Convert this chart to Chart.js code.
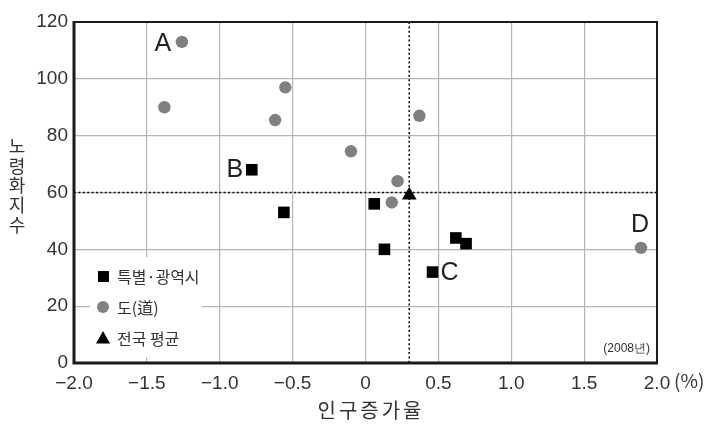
<!DOCTYPE html>
<html>
<head>
<meta charset="utf-8">
<script src="https://cdn.jsdelivr.net/npm/chart.js@4"></script>
<style>
  body { margin: 0; background: #fff; }
  #wrap { width: 711px; height: 424px; position: relative; }
</style>
</head>
<body>
<div id="wrap"><canvas id="agingChart"></canvas></div>
<script>
// 특별·광역시 (x: 인구증가율 %, y: 노령화지수)
var cityX = [-0.78, -0.56, 0.06, 0.13, 0.62, 0.69, 0.46];
var cityY = [68, 53, 56, 40, 44, 42, 32];
// 도(道)
var provX = [-1.26, -1.38, -0.55, -0.62, -0.10, 0.37, 0.22, 0.18, 1.89];
var provY = [113, 90, 97, 85.5, 74.5, 87, 64, 56.5, 40.5];
// 전국 평균
var avgX = [0.3];
var avgY = [59];
// dotted reference lines
var refX = 0.3;
var refY = 60;

var xTickLabels = ["−2.0", "−1.5", "−1.0", "−0.5", "0", "0.5", "1.0", "1.5", "2.0"];
var seriesNames = ["특별·광역시", "도(道)", "전국 평균"];
var yTitle = "노령화지수";
var xTitle = "인구증가율";
var unitText = "(%)";
var yearText = "(2008년)";

// letters next to some points: dataset index, point index, offset
var pointLetters = [
  { text: "A", ds: 1, i: 0, dx: -19, dy: 2 },
  { text: "B", ds: 0, i: 0, dx: -17, dy: 0 },
  { text: "C", ds: 0, i: 6, dx: 17, dy: 1 },
  { text: "D", ds: 1, i: 8, dx: -1, dy: -23 }
];

function toPoints(xs, ys) {
  return xs.map(function(x, k) { return { x: x, y: ys[k] }; });
}

var cjk = "'Noto Sans CJK KR', 'Noto Sans', sans-serif";
var narrow = "'Liberation Sans Narrow', 'Liberation Sans', sans-serif";

var extras = {
  id: "extras",
  beforeDatasetsDraw: function(chart) {
    var ctx = chart.ctx, a = chart.chartArea;
    var sx = chart.scales.x, sy = chart.scales.y;
    ctx.save();
    // legend background hides grid lines
    ctx.fillStyle = "#fff";
    ctx.fillRect(90, 257, 112, 100);

    // dotted average lines
    ctx.strokeStyle = "#111";
    ctx.lineWidth = 1.6;
    ctx.setLineDash([2, 2.4]);
    ctx.beginPath();
    ctx.moveTo(a.left, sy.getPixelForValue(refY));
    ctx.lineTo(a.right, sy.getPixelForValue(refY));
    ctx.moveTo(sx.getPixelForValue(refX), a.top);
    ctx.lineTo(sx.getPixelForValue(refX), a.bottom);
    ctx.stroke();
    ctx.setLineDash([]);

    // frame
    ctx.strokeStyle = "#1a1a1a";
    ctx.lineWidth = 2;
    ctx.strokeRect(a.left, a.top, a.right - a.left, a.bottom - a.top);
    ctx.lineWidth = 3;
    ctx.beginPath();
    ctx.moveTo(a.left, a.top - 1);
    ctx.lineTo(a.left, a.bottom);
    ctx.lineTo(a.right + 1, a.bottom);
    ctx.stroke();
    ctx.restore();
  },
  afterDraw: function(chart) {
    var ctx = chart.ctx, a = chart.chartArea;
    ctx.save();
    ctx.fillStyle = "#222";
    ctx.textAlign = "center";
    ctx.textBaseline = "middle";

    // letters A-D
    ctx.font = "25px 'Liberation Sans', sans-serif";
    pointLetters.forEach(function(p) {
      var el = chart.getDatasetMeta(p.ds).data[p.i];
      ctx.fillText(p.text, el.x + p.dx, el.y + p.dy);
    });

    // y title, characters stacked upright
    ctx.font = "18px " + cjk;
    ctx.fillStyle = "#333";
    for (var k = 0; k < yTitle.length; k++) {
      ctx.fillText(yTitle[k], 17, 146 + k * 19.8);
    }
    // x title
    ctx.font = "20px " + cjk;
    ctx.save();
    ctx.letterSpacing = "3px";
    ctx.fillText(xTitle, 371, 410);
    ctx.restore();
    // unit
    ctx.font = "19px " + cjk;
    ctx.textAlign = "left";
    ctx.fillText(unitText, 674, 381);

    // year note
    ctx.font = "12px " + narrow;
    ctx.textAlign = "right";
    ctx.fillText(yearText, a.right - 7, 349);

    // legend
    ctx.textAlign = "left";
    ctx.font = "16px " + cjk;
    var rows = [276, 307, 338];
    ctx.fillStyle = "#000";
    ctx.fillRect(98, rows[0] - 5, 11, 11);
    ctx.fillStyle = "#808080";
    ctx.beginPath();
    ctx.arc(103, rows[1], 6, 0, Math.PI * 2);
    ctx.fill();
    ctx.fillStyle = "#000";
    ctx.beginPath();
    ctx.moveTo(103, rows[2] - 7);
    ctx.lineTo(110, rows[2] + 5.5);
    ctx.lineTo(96, rows[2] + 5.5);
    ctx.closePath();
    ctx.fill();
    ctx.fillStyle = "#333";
    for (var r = 0; r < rows.length; r++) {
      ctx.fillText(seriesNames[r], 117, rows[r] + 1);
    }
    ctx.restore();
  }
};

new Chart("agingChart", {
  type: "scatter",
  data: {
    datasets: [{
      label: seriesNames[0],
      data: toPoints(cityX, cityY),
      pointStyle: "rect",
      pointRadius: 8.2,
      backgroundColor: "#000",
      borderWidth: 0
    }, {
      label: seriesNames[1],
      data: toPoints(provX, provY),
      pointStyle: "circle",
      pointRadius: 6.2,
      backgroundColor: "#808080",
      borderWidth: 0
    }, {
      label: seriesNames[2],
      data: toPoints(avgX, avgY),
      pointStyle: "triangle",
      pointRadius: 8.5,
      backgroundColor: "#000",
      borderWidth: 0
    }]
  },
  options: {
    responsive: true,
    maintainAspectRatio: false,
    animation: false,
    layout: { padding: { left: 30, right: 54, top: 22, bottom: 21 } },
    plugins: {
      legend: { display: false },
      tooltip: { enabled: false }
    },
    scales: {
      x: {
        type: "linear",
        min: -2,
        max: 2,
        afterFit: function(s) { s.height = 40; },
        afterBuildTicks: function(s) {
          s.ticks = xTickLabels.map(function(t, k) { return { value: -2 + k * 0.5 }; });
        },
        ticks: {
          callback: function(v, k) { return xTickLabels[k]; },
          padding: 9,
          color: "#333",
          font: { family: narrow, size: 19 },
          maxRotation: 0
        },
        grid: { color: "#b5b5b5", lineWidth: 1.2, drawTicks: false },
        border: { display: false }
      },
      y: {
        min: 0,
        max: 120,
        afterFit: function(s) { s.width = 44; },
        ticks: {
          stepSize: 20,
          padding: 6,
          color: "#333",
          font: { family: narrow, size: 19 }
        },
        grid: { color: "#b5b5b5", lineWidth: 1.2, drawTicks: false },
        border: { display: false }
      }
    }
  },
  plugins: [extras]
});
</script>
</body>
</html>
